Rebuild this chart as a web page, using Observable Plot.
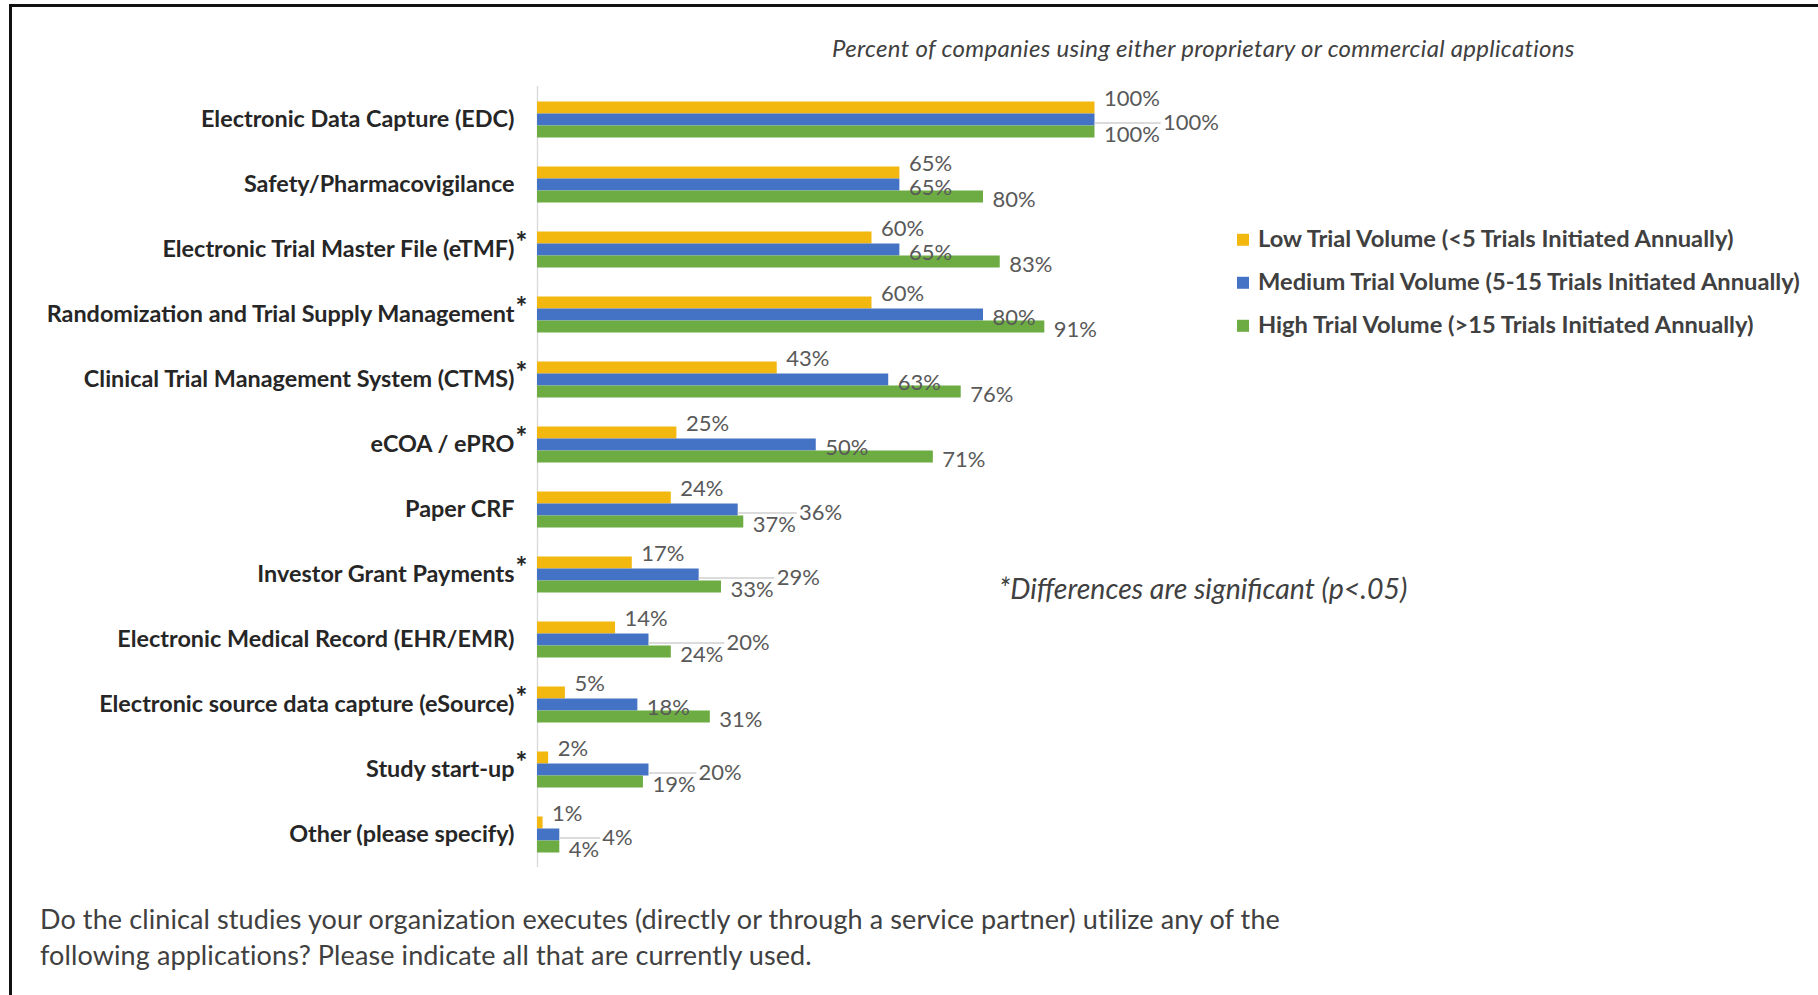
<!DOCTYPE html>
<html><head><meta charset="utf-8">
<script src="https://cdn.jsdelivr.net/npm/d3@7"></script>
<script src="https://cdn.jsdelivr.net/npm/@observablehq/plot@0.6"></script>
<style>
html,body{margin:0;padding:0;background:#fff;}
#wrap{position:relative;width:1818px;height:995px;overflow:hidden;font-family:Lato,"Open Sans",sans-serif;background:#fff;}
#wrap svg{position:absolute;left:0;top:0;}
.abs{position:absolute;white-space:nowrap;color:#404040;transform:translateY(-50%);line-height:1.2;}
.bTop{position:absolute;left:9px;top:4px;right:0;height:3px;background:#111;}
.bLeft{position:absolute;left:9px;top:4px;bottom:0;width:3px;background:#111;}
.legend .row{position:absolute;left:0;white-space:nowrap;font-weight:bold;font-size:23.7px;color:#404040;transform:translateY(-50%);line-height:1.2;}
.legend .sw{display:inline-block;width:12px;height:12px;margin-right:9px;vertical-align:1px;}
</style></head><body><div id="wrap"></div>
<script>
const categories = [
  "Electronic Data Capture (EDC)",
  "Safety/Pharmacovigilance",
  "Electronic Trial Master File (eTMF)",
  "Randomization and Trial Supply Management",
  "Clinical Trial Management System (CTMS)",
  "eCOA / ePRO",
  "Paper CRF",
  "Investor Grant Payments",
  "Electronic Medical Record (EHR/EMR)",
  "Electronic source data capture (eSource)",
  "Study start-up",
  "Other (please specify)"
];
const significant = [false, false, true, true, true, true, false, true, false, true, true, false];
const seriesNames = [
  "Low Trial Volume (<5 Trials Initiated Annually)",
  "Medium Trial Volume (5-15 Trials Initiated Annually)",
  "High Trial Volume (>15 Trials Initiated Annually)"
];
const lowValues    = [100, 65, 60, 60, 43, 25, 24, 17, 14, 5, 2, 1];
const mediumValues = [100, 65, 65, 80, 63, 50, 36, 29, 20, 18, 20, 4];
const highValues   = [100, 80, 83, 91, 76, 71, 37, 33, 24, 31, 19, 4];
const colors = ["#F2B80F", "#4472C4", "#6CAC43"];
const chartTitle = "Percent of companies using either proprietary or commercial applications";
const noteText = "*Differences are significant (p<.05)";
const questionLines = [
  "Do the clinical studies your organization executes (directly or through a service partner) utilize any of the",
  "following applications? Please indicate all that are currently used."
];

// layout
const W = 1818, H = 995;
const mL = 537, mR = 723.5, mT = 69.5, mB = 112;
const pad = 0.42;
const labelSize = 22;
const labelFont = labelSize + "px Lato";
const xs = d3.scaleLinear().domain([0, 100]).range([mL, W - mR]);
const step = (H - mT - mB) / (categories.length - pad + 2 * pad);
const bw = step * (1 - pad) / 3;
const seriesDy = [-9, 3, 3];

const valuesBySeries = [lowValues, mediumValues, highValues];
const rows = [];
categories.forEach((c, i) => seriesNames.forEach((s, j) => rows.push({category: c, series: s, si: j, value: valuesBySeries[j][i]})));

// label placement (avoid overlaps inside a group, like the source chart)
const ctx = document.createElement("canvas").getContext("2d");
ctx.font = labelFont;
const labels = [];
categories.forEach((c, i) => {
  const placed = [];
  [2, 1, 0].forEach(j => {
    const v = valuesBySeries[j][i];
    const text = v + "%";
    const w = ctx.measureText(text).width;
    const yc = (j - 1) * bw + seriesDy[j];
    let x0 = xs(v) + 9;
    let moved = true;
    while (moved) {
      moved = false;
      for (const p of placed) {
        if (Math.abs(p.yc - yc) < 16 && x0 < p.x1 + 3 && x0 + w > p.x0 - 3) { x0 = p.x1 + 3; moved = true; }
      }
    }
    placed.push({x0, x1: x0 + w, yc});
    labels.push({category: c, series: seriesNames[j], si: j, value: v, text, lx: xs.invert(x0), shifted: x0 - xs(v) > 14});
  });
});

const textMarks = [0, 1, 2].map(j => Plot.text(labels.filter(d => d.si === j), {
  fy: "category", y: "series", x: "lx", text: "text", textAnchor: "start",
  dy: seriesDy[j], fill: "#595959", fontSize: labelSize, fontFamily: "Lato"
}));
const leaderMarks = [0, 1, 2].map(j => Plot.ruleY(labels.filter(d => d.si === j && d.shifted), {
  fy: "category", y: "series", x1: "value", x2: d => d.lx - 0.3, dy: seriesDy[j], stroke: "#cfcfcf", strokeWidth: 1.5
}));

const plot = Plot.plot({
  width: W, height: H,
  marginLeft: mL, marginRight: mR, marginTop: mT, marginBottom: mB,
  style: {background: "transparent", fontFamily: "Lato"},
  x: {domain: [0, 100], axis: null},
  y: {domain: seriesNames, padding: 0, axis: null},
  fy: {domain: categories, paddingInner: pad, paddingOuter: pad, label: null},
  color: {domain: seriesNames, range: colors},
  marks: [
    Plot.ruleX([0], {stroke: "#dcdcdc", strokeWidth: 1.5, insetTop: -14, insetBottom: -14}),
    Plot.barX(rows, {fy: "category", y: "series", x: "value", fill: "series"}),
    ...leaderMarks,
    ...textMarks,
    Plot.axisFy({anchor: "left", tickSize: 0, tickPadding: 23, fontSize: 23.4, fontWeight: "bold", fill: "#262626", label: null}),
    Plot.text(categories.filter((c, i) => significant[i]), {fy: d => d, x: () => 0, text: () => "*", dx: -22, dy: -6, textAnchor: "start", fontSize: 28, fontWeight: "bold", fill: "#262626"})
  ]
});

const wrap = document.getElementById("wrap");
wrap.appendChild(plot);

function addDiv(cls, html, css) {
  const d = document.createElement("div");
  d.className = cls; d.innerHTML = html; Object.assign(d.style, css); wrap.appendChild(d); return d;
}
addDiv("bTop", "", {});
addDiv("bLeft", "", {});
const esc = s => s.replace(/&/g, "&amp;").replace(/</g, "&lt;").replace(/>/g, "&gt;");
addDiv("abs", esc(chartTitle), {left: "832px", top: "48px", fontStyle: "italic", fontSize: "24px", letterSpacing: "0.3px"});
addDiv("abs", esc(noteText), {left: "999px", top: "588px", fontStyle: "italic", fontSize: "28.5px"});
addDiv("abs", esc(questionLines[0]), {left: "40px", top: "919px", fontSize: "27px", letterSpacing: "0.1px"});
addDiv("abs", esc(questionLines[1]), {left: "40px", top: "955px", fontSize: "27px", letterSpacing: "0.1px"});
const legend = addDiv("legend", "", {position: "absolute", left: "1237px", top: "0px"});
const legendY = [238, 280.5, 323.5];
seriesNames.forEach((s, j) => {
  const r = document.createElement("div");
  r.className = "row"; r.style.top = legendY[j] + "px";
  r.innerHTML = `<span class="sw" style="background:${colors[j]}"></span>${esc(s)}`;
  legend.appendChild(r);
});
</script></body></html>
